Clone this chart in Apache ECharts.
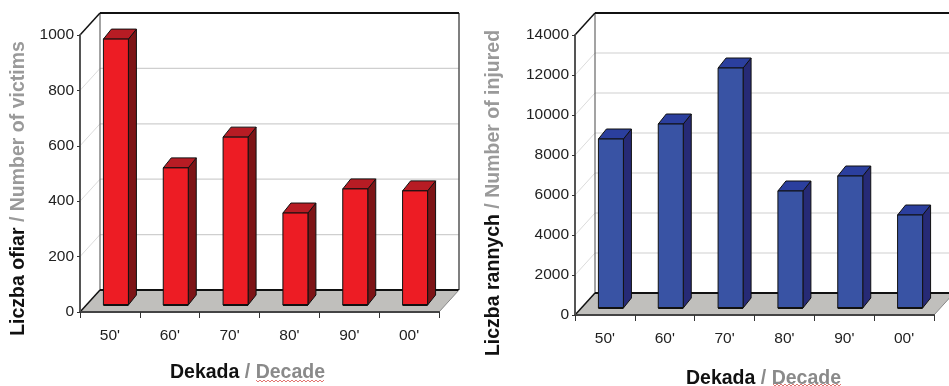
<!DOCTYPE html>
<html>
<head>
<meta charset="utf-8">
<style>
html, body { margin: 0; padding: 0; background: #fff; }
#chart { width: 949px; height: 386px; }
</style>
<script src="https://cdn.jsdelivr.net/npm/echarts@6/dist/echarts.min.js"></script>
</head>
<body>
<div id="chart"></div>
<script>
const decades = ["50'", "60'", "70'", "80'", "90'", "00'"];
const victims = [960, 495, 606, 332, 419, 412];
const injured = [8450, 9200, 12000, 5850, 6600, 4650];
const victimTicks = [200, 400, 600, 800, 1000];
const injuredTicks = [2000, 4000, 6000, 8000, 10000, 12000, 14000];

const chart = echarts.init(document.getElementById('chart'));

// the picture is a fake 3d excel chart, depth is just a pixel shift
const wallDx = 20, wallDy = 22;
const barShiftX = 6, barShiftY = 7;
const barDx = 8, barDy = 10;
const barWidth = 25;
const tickFont = '"Liberation Sans", Arial, sans-serif';
const titleFont = '"Liberation Sans", Arial, sans-serif';

function seg(x1, y1, x2, y2, stroke, lineWidth) {
    return {
        type: 'line',
        shape: { x1: x1, y1: y1, x2: x2, y2: y2 },
        style: { stroke: stroke, lineWidth: lineWidth }
    };
}

function wallRenderer(ticks) {
    return function (params, api) {
        const sys = params.coordSys;
        const left = sys.x, right = sys.x + sys.width;
        const top = sys.y, bottom = sys.y + sys.height;
        const kids = [];
        // floor
        kids.push({
            type: 'polygon',
            shape: { points: [[left, bottom], [left + wallDx, bottom - wallDy], [right + wallDx, bottom - wallDy], [right, bottom]] },
            style: { fill: '#c0bfbc', stroke: null }
        });
        ticks.forEach(function (t) {
            const y = api.coord([0, t])[1];
            if (y > top + 1) {
                kids.push(seg(left, y, left + wallDx, y - wallDy, '#dcdcdc', 1));
                kids.push(seg(left + wallDx, y - wallDy, right + wallDx, y - wallDy, '#cfcfcf', 1.2));
            }
        });
        kids.push(seg(left + wallDx, top - wallDy, left + wallDx, bottom - wallDy, '#666', 1.2));
        kids.push(seg(right + wallDx, top - wallDy, right + wallDx, bottom - wallDy, '#555', 1.5));
        kids.push(seg(left, top, left + wallDx, top - wallDy, '#111', 1.5));
        kids.push(seg(left + wallDx, top - wallDy, right + wallDx, top - wallDy, '#111', 2));
        kids.push(seg(left, bottom, left + wallDx, bottom - wallDy, '#111', 1.5));
        kids.push(seg(left + wallDx, bottom - wallDy, right + wallDx, bottom - wallDy, '#111', 2));
        kids.push(seg(right, bottom, right + wallDx, bottom - wallDy, '#888', 1));
        return { type: 'group', children: kids };
    };
}

function barRenderer(front, side, topFace) {
    return function (params, api) {
        const base = api.coord([api.value(0), 0]);
        const head = api.coord([api.value(0), api.value(1)]);
        const x0 = base[0] + barShiftX - barWidth / 2;
        const x1 = x0 + barWidth;
        const y0 = base[1] - barShiftY;
        const y1 = head[1] - barShiftY;
        const edge = { stroke: '#111', lineWidth: 1 };
        return {
            type: 'group',
            children: [
                {
                    type: 'polygon',
                    shape: { points: [[x1, y0], [x1 + barDx, y0 - barDy], [x1 + barDx, y1 - barDy], [x1, y1]] },
                    style: Object.assign({ fill: side }, edge)
                },
                {
                    type: 'polygon',
                    shape: { points: [[x0, y1], [x0 + barDx, y1 - barDy], [x1 + barDx, y1 - barDy], [x1, y1]] },
                    style: Object.assign({ fill: topFace }, edge)
                },
                {
                    type: 'rect',
                    shape: { x: x0, y: y1, width: barWidth, height: y0 - y1 },
                    style: Object.assign({ fill: front }, edge)
                },
                seg(x0, y0, x1, y0, '#111', 2)
            ]
        };
    };
}

function xAxisFor(gridIndex, nameGap, pad) {
    return {
        gridIndex: gridIndex,
        type: 'category',
        data: decades,
        z: 5,
        axisLine: { onZero: false, lineStyle: { color: '#444', width: 2 } },
        axisTick: { show: true, length: 6, lineStyle: { color: '#333', width: 1 } },
        axisLabel: { color: '#222', fontFamily: tickFont, fontSize: 15.5, margin: 16, interval: 0 },
        name: '{a|Dekada}{b| / }{c|Decade}',
        nameLocation: 'middle',
        nameGap: nameGap,
        nameTextStyle: {
            padding: pad,
            rich: {
                a: { color: '#111', fontFamily: titleFont, fontWeight: 'bold', fontSize: 19.5 },
                b: { color: '#8a8a8a', fontFamily: titleFont, fontWeight: 'bold', fontSize: 19.5 },
                c: { color: '#8a8a8a', fontFamily: titleFont, fontWeight: 'bold', fontSize: 19.5 }
            }
        }
    };
}

function yAxisFor(gridIndex, max, interval, first, second, nameGap, pad) {
    return {
        gridIndex: gridIndex,
        type: 'value',
        min: 0,
        max: max,
        interval: interval,
        z: 5,
        splitLine: { show: false },
        axisLine: { show: true, lineStyle: { color: '#555', width: 2 } },
        axisTick: { show: true, length: 3, lineStyle: { color: '#333' } },
        axisLabel: {
            color: '#222', fontFamily: tickFont, fontSize: 15.5, margin: 6,
            formatter: function (v) { return String(v); }
        },
        name: '{a|' + first + '}{b| / ' + second + '}',
        nameLocation: 'middle',
        nameGap: nameGap,
        nameTextStyle: {
            padding: pad,
            rich: {
                a: { color: '#111', fontFamily: titleFont, fontWeight: 'bold', fontSize: 19.5 },
                b: { color: '#9a9a9a', fontFamily: titleFont, fontWeight: 'bold', fontSize: 19.5 }
            }
        }
    };
}

function squiggle(x0, x1, y, color) {
    const pts = [];
    for (let x = x0, up = true; x <= x1; x += 2, up = !up) {
        pts.push([x, up ? y - 1 : y + 1]);
    }
    return { type: 'polyline', shape: { points: pts }, style: { stroke: color, lineWidth: 0.8, fill: null }, silent: true };
}

const option = {
    animation: false,
    backgroundColor: '#fff',
    grid: [
        { left: 80, top: 35, width: 359, height: 277, outerBoundsMode: 'none' },
        { left: 575, top: 35, width: 359, height: 280, outerBoundsMode: 'none' }
    ],
    xAxis: [xAxisFor(0, 51, [0, 24, 0, 0]), xAxisFor(1, 54, [0, 0, 0, 18])],
    yAxis: [
        yAxisFor(0, 1000, 200, 'Liczba ofiar', 'Number of victims', 51, [0, 30, 0, 0]),
        yAxisFor(1, 14000, 2000, 'Liczba rannych', 'Number of injured', 71, [0, 36, 0, 0])
    ],
    series: [
        {
            type: 'custom',
            xAxisIndex: 0, yAxisIndex: 0,
            z: 1,
            silent: true,
            renderItem: wallRenderer(victimTicks),
            data: [[0, 0]]
        },
        {
            type: 'custom',
            xAxisIndex: 1, yAxisIndex: 1,
            z: 1,
            silent: true,
            renderItem: wallRenderer(injuredTicks),
            data: [[0, 0]]
        },
        {
            name: 'Liczba ofiar',
            type: 'custom',
            xAxisIndex: 0, yAxisIndex: 0,
            z: 3,
            renderItem: barRenderer('#ed1c24', '#7d1416', '#b71c24'),
            encode: { x: 0, y: 1 },
            data: victims.map(function (v, i) { return [i, v]; })
        },
        {
            name: 'Liczba rannych',
            type: 'custom',
            xAxisIndex: 1, yAxisIndex: 1,
            z: 3,
            renderItem: barRenderer('#3953a4', '#262a76', '#2b3f9e'),
            encode: { x: 0, y: 1 },
            data: injured.map(function (v, i) { return [i, v]; })
        }
    ],
    graphic: [
        squiggle(256, 325, 381, '#d9534f'),
        squiggle(773, 841, 385, '#d9534f')
    ]
};

chart.setOption(option);
</script>
</body>
</html>
